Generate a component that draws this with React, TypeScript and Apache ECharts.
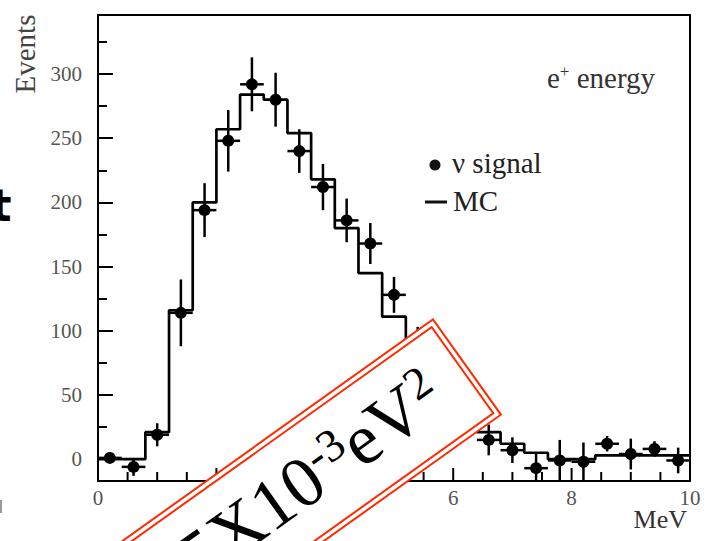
import React, { useEffect, useRef } from "react";
import * as echarts from "echarts";

// ---- data ----
const binLow = [0, 0.4, 0.8, 1.2, 1.6, 2.0, 2.4, 2.8, 3.2, 3.6, 4.0, 4.4, 4.8, 5.2, 5.6, 6.0, 6.4, 6.8, 7.2, 7.6, 8.0, 8.4, 8.8, 9.2, 9.6];
const binWidth = 0.4;
const mcValues = [0, 0, 21, 116, 200, 257, 284, 280, 254, 218, 180, 145, 111, 80, 55, 35, 21, 12, 5, 0, 0, 3, 3, 3, 3];
const signalValues = [1, -6, 19, 114, 194, 248, 292, 280, 240, 212, 186, 168, 128, 90, 60, 35, 15, 7, -7, -1, -2, 12, 4, 8, -1];
const signalErrors = [4, 7, 9, 26, 21, 24, 21, 21, 17, 18, 17, 16, 14, 13, 12, 12, 12, 10, 12, 16, 15, 6, 12, 6, 10];
const xMajorTicks = [0, 2, 4, 6, 8, 10];
const xMinorTicks = [0.5, 1, 1.5, 2.5, 3, 3.5, 4.5, 5, 5.5, 6.5, 7, 7.5, 8.5, 9, 9.5];
const yMajorTicks = [0, 50, 100, 150, 200, 250, 300];
const yMinorTicks = [25, 75, 125, 175, 225, 275, 325];
const xRange = [0, 10];
const yRange = [-17, 346];

const SERIF = "'Liberation Serif', 'DejaVu Serif', serif";
const RED = "#ff2a00";

export default function App() {
  const ref = useRef<HTMLDivElement>(null);

  useEffect(() => {
    if (!ref.current) return;
    const chart = echarts.init(ref.current, undefined, { renderer: "svg" });

    const last = binLow.length - 1;
    const mcData = binLow.map((b, i) => [b, mcValues[i]]);
    mcData.push([binLow[last] + binWidth, mcValues[last]]);
    const sigData = binLow.map((b, i) => [b + binWidth / 2, signalValues[i], signalErrors[i]]);

    const ang = (35.5 * Math.PI) / 180;
    const L = 420;
    const H = 117;

    const tickLine = { color: "#000", width: 2 };

    const option: any = {
      animation: false,
      backgroundColor: "#fff",
      grid: {
        left: 98,
        top: 15,
        width: 592,
        height: 466,
        show: true,
        borderColor: "#000",
        borderWidth: 2,
        backgroundColor: "transparent",
      },
      xAxis: {
        type: "value",
        position: "bottom",
        min: xRange[0],
        max: xRange[1],
        interval: 2,
        axisLine: { show: true, onZero: false, lineStyle: tickLine },
        splitLine: { show: false },
        axisTick: { show: false },
        axisLabel: { show: true, margin: 6, fontSize: 21, fontFamily: SERIF, color: "#555" },
      },
      yAxis: [
        {
          type: "value",
          min: yRange[0],
          max: yRange[1],
          axisLine: { show: true, onZero: false, lineStyle: tickLine },
          splitLine: { show: false },
          axisTick: { show: true, inside: true, length: 15, customValues: yMajorTicks, lineStyle: tickLine },
          axisLabel: {
            show: true,
            customValues: yMajorTicks,
            margin: 16,
            fontSize: 21,
            fontFamily: SERIF,
            color: "#555",
          },
        },
        {
          type: "value",
          min: yRange[0],
          max: yRange[1],
          position: "left",
          offset: 0,
          axisLine: { show: false, onZero: false },
          splitLine: { show: false },
          axisTick: { show: true, inside: true, length: 9, customValues: yMinorTicks, lineStyle: tickLine },
          axisLabel: { show: false },
        },
      ],
      series: [
        {
          name: "MC",
          type: "line",
          step: "end",
          data: mcData,
          symbol: "none",
          lineStyle: { color: "#000", width: 2.7 },
          z: 3,
        },
        {
          name: "ν signal",
          type: "custom",
          clip: true,
          data: sigData,
          encode: { x: 0, y: 1 },
          z: 4,
          renderItem: (params: any, api: any) => {
            const x = api.value(0);
            const v = api.value(1);
            const e = api.value(2);
            const c = api.coord([x, v]);
            const t = api.coord([x, v + e]);
            const b = api.coord([x, v - e]);
            const l = api.coord([x - binWidth / 2, v]);
            const r = api.coord([x + binWidth / 2, v]);
            return {
              type: "group",
              children: [
                { type: "line", shape: { x1: t[0], y1: t[1], x2: b[0], y2: b[1] }, style: { stroke: "#000", lineWidth: 2.5 } },
                { type: "line", shape: { x1: l[0], y1: l[1], x2: r[0], y2: r[1] }, style: { stroke: "#000", lineWidth: 2.5 } },
                { type: "circle", shape: { cx: c[0], cy: c[1], r: 6 }, style: { fill: "#000" } },
              ],
            };
          },
        },
      ],
      graphic: [
        {
          type: "text",
          x: 25,
          y: 54,
          rotation: Math.PI / 2,
          style: { text: "Events", align: "center", verticalAlign: "middle", fontSize: 29, fontFamily: SERIF, fill: "#444" },
        },
        {
          type: "text",
          x: 547,
          y: 78,
          style: {
            text: "e{sup|+} energy",
            align: "left",
            verticalAlign: "middle",
            fontSize: 29,
            fontFamily: SERIF,
            fill: "#333",
            lineHeight: 30,
            rich: { sup: { fontSize: 17, fontFamily: SERIF, fill: "#333", verticalAlign: "top", lineHeight: 17 } },
          },
        },
        { type: "circle", shape: { cx: 435, cy: 165, r: 5.5 }, style: { fill: "#111" } },
        {
          type: "text",
          x: 452,
          y: 163,
          style: { text: "ν signal", align: "left", verticalAlign: "middle", fontSize: 29, fontFamily: SERIF, fill: "#222" },
        },
        { type: "line", shape: { x1: 425, y1: 202, x2: 447, y2: 202 }, style: { stroke: "#111", lineWidth: 3 } },
        {
          type: "text",
          x: 453,
          y: 201,
          style: { text: "MC", align: "left", verticalAlign: "middle", fontSize: 29, fontFamily: SERIF, fill: "#222" },
        },
        {
          type: "text",
          x: 687,
          y: 519,
          style: { text: "MeV", align: "right", verticalAlign: "middle", fontSize: 26, fontFamily: SERIF, fill: "#333" },
        },
        {
          type: "text",
          x: -9.5,
          y: 205,
          style: { text: "t", align: "left", verticalAlign: "middle", fontSize: 44, fontWeight: "bold", fontFamily: "'DejaVu Sans', sans-serif", fill: "#000" },
        },
        { type: "rect", shape: { x: 0, y: 500, width: 2, height: 13 }, style: { fill: "#999" } },
        {
          type: "group",
          x: 296,
          y: 489,
          rotation: ang,
          z: 100,
          children: [
            {
              type: "rect",
              z: 100,
              shape: { x: -L / 2, y: -H / 2, width: L, height: H },
              style: { fill: "#fff", stroke: RED, lineWidth: 2 },
            },
            {
              type: "rect",
              z: 101,
              shape: { x: -L / 2 + 5.5, y: -H / 2 + 5.5, width: L - 11, height: H - 11 },
              style: { fill: "none", stroke: RED, lineWidth: 2 },
            },
            {
              type: "text",
              z: 102,
              x: L / 2 - 38,
              y: -2,
              style: {
                text: "5X10{sup|-3}eV{sup|2}",
                align: "right",
                verticalAlign: "middle",
                fontSize: 72,
                fontFamily: SERIF,
                fill: "#000",
                lineHeight: 74,
                rich: {
                  sup: { fontSize: 46, fontFamily: SERIF, fill: "#000", verticalAlign: "top", lineHeight: 46 },
                },
              },
            },
          ],
        },
      ],
    };

    chart.setOption(option);

    // x-axis ticks placed through the chart's own scale (convertToPixel)
    const tickEls: any[] = [];
    const addTicks = (vals: number[], len: number) => {
      vals.forEach((v) => {
        const p = chart.convertToPixel({ xAxisIndex: 0, yAxisIndex: 0 }, [v, yRange[0]]) as number[];
        tickEls.push({
          type: "line",
          z: 50,
          shape: { x1: p[0], y1: p[1], x2: p[0], y2: p[1] - len },
          style: { stroke: "#000", lineWidth: 2 },
        });
      });
    };
    addTicks(xMajorTicks, 13);
    addTicks(xMinorTicks, 9);
    const allGraphic = [...tickEls, ...option.graphic];
    chart.setOption({ graphic: allGraphic }, { replaceMerge: ["graphic"] });

    return () => chart.dispose();
  }, []);

  return (
    <div
      ref={ref}
      style={{ position: "absolute", left: 0, top: 0, width: 709, height: 541, background: "#fff" }}
    />
  );
}
